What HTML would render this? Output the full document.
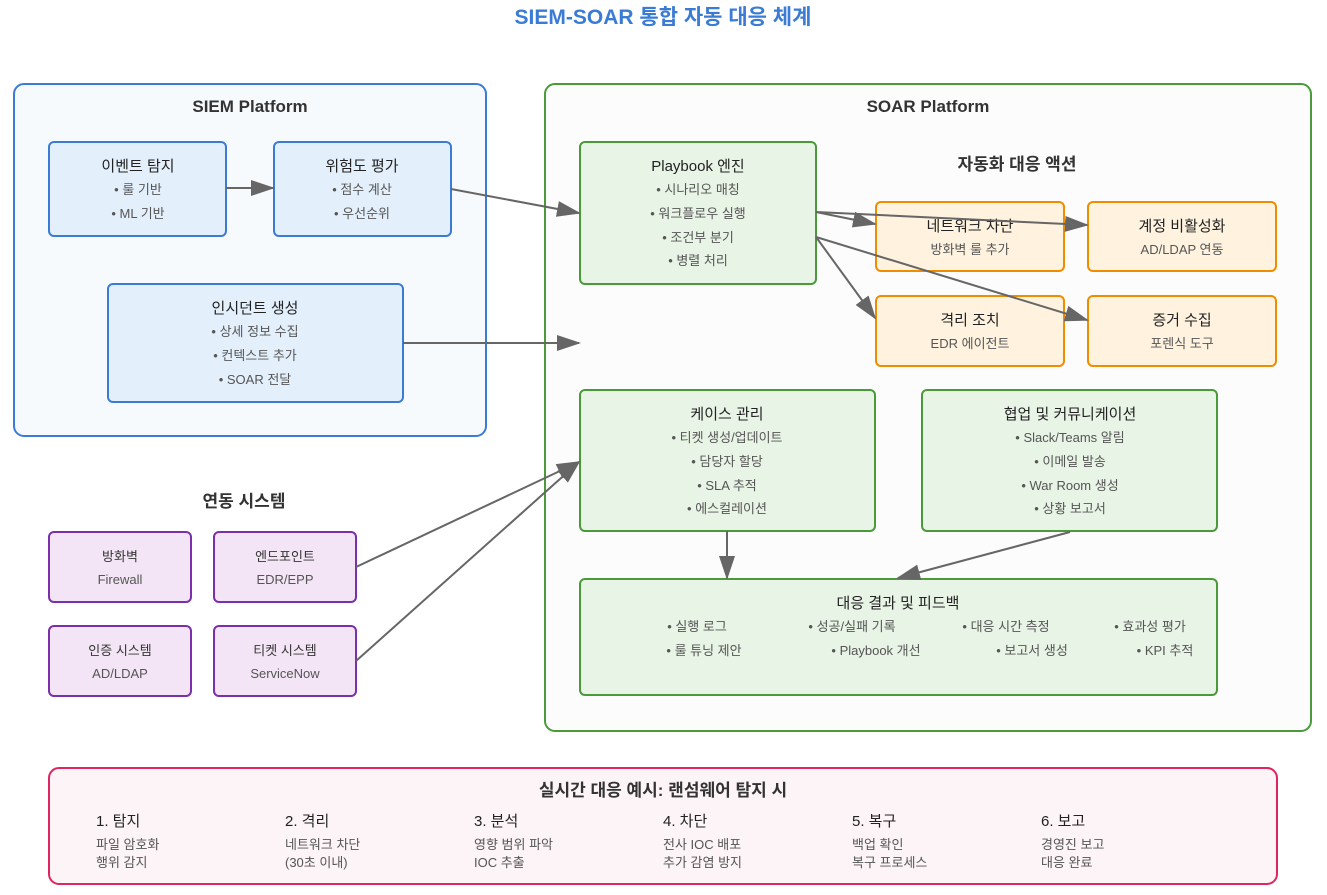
<!DOCTYPE html>
<html><head><meta charset="utf-8"><style>
html,body{margin:0;padding:0;background:#fff}
svg{display:block}
text{font-family:"Liberation Sans","Noto Sans CJK KR",sans-serif}
.t{font-size:15px;fill:#222;text-anchor:middle}
.s{font-size:13px;fill:#555;text-anchor:middle}
.h{font-size:17px;font-weight:bold;fill:#333;text-anchor:middle}
.l{font-size:15px;fill:#222}
.ls{font-size:13px;fill:#555}
</style></head><body>
<svg width="1327" height="895" viewBox="0 0 1327 895">
<defs><marker id="a" markerWidth="10" markerHeight="8" refX="9" refY="4" orient="auto" markerUnits="userSpaceOnUse" viewBox="0 0 10 8"><path d="M0,0 L10,4 L0,8z" fill="#666"/></marker>
<marker id="b" markerWidth="24" markerHeight="16" refX="22" refY="8" orient="auto" markerUnits="userSpaceOnUse"><path d="M0,0 L24,8 L0,16z" fill="#666"/></marker></defs>
<text x="663" y="24" text-anchor="middle" style="font-size:21px;font-weight:bold;fill:#3a7bd5">SIEM-SOAR 통합 자동 대응 체계</text>

<rect x="14" y="84" width="472" height="352" rx="10" fill="#f7fafd" stroke="#3a7bd5" stroke-width="2"/>
<text class="h" x="250" y="112">SIEM Platform</text>
<rect x="545" y="84" width="766" height="647" rx="10" fill="#fbfcfb" stroke="#4a9a3a" stroke-width="2"/>
<text class="h" x="928" y="112">SOAR Platform</text>

<g fill="#e3f0fc" stroke="#3a7bd5" stroke-width="2">
<rect x="49" y="142" width="177" height="94" rx="5"/>
<rect x="274" y="142" width="177" height="94" rx="5"/>
<rect x="108" y="284" width="295" height="118" rx="5"/>
</g>
<text class="t" x="138" y="171">이벤트 탐지</text><text class="s" x="138" y="194">• 룰 기반</text><text class="s" x="138" y="218">• ML 기반</text>
<text class="t" x="362" y="171">위험도 평가</text><text class="s" x="362" y="194">• 점수 계산</text><text class="s" x="362" y="218">• 우선순위</text>
<text class="t" x="255" y="313">인시던트 생성</text><text class="s" x="255" y="336">• 상세 정보 수집</text><text class="s" x="255" y="360">• 컨텍스트 추가</text><text class="s" x="255" y="384">• SOAR 전달</text>

<g fill="#e8f4e5" stroke="#4a9a3a" stroke-width="2">
<rect x="580" y="142" width="236" height="142" rx="5"/>
<rect x="580" y="390" width="295" height="141" rx="5"/>
<rect x="922" y="390" width="295" height="141" rx="5"/>
<rect x="580" y="579" width="637" height="116" rx="5"/>
</g>
<text class="t" x="698" y="171">Playbook 엔진</text><text class="s" x="698" y="194">• 시나리오 매칭</text><text class="s" x="698" y="218">• 워크플로우 실행</text><text class="s" x="698" y="242">• 조건부 분기</text><text class="s" x="698" y="265">• 병렬 처리</text>
<text class="t" x="727" y="419">케이스 관리</text><text class="s" x="727" y="442">• 티켓 생성/업데이트</text><text class="s" x="727" y="466">• 담당자 할당</text><text class="s" x="727" y="490">• SLA 추적</text><text class="s" x="727" y="513">• 에스컬레이션</text>
<text class="t" x="1070" y="419">협업 및 커뮤니케이션</text><text class="s" x="1070" y="442">• Slack/Teams 알림</text><text class="s" x="1070" y="466">• 이메일 발송</text><text class="s" x="1070" y="490">• War Room 생성</text><text class="s" x="1070" y="513">• 상황 보고서</text>
<text class="t" x="898" y="608">대응 결과 및 피드백</text>
<text class="s" x="697" y="631">• 실행 로그</text><text class="s" x="852" y="631">• 성공/실패 기록</text><text class="s" x="1006" y="631">• 대응 시간 측정</text><text class="s" x="1150" y="631">• 효과성 평가</text>
<text class="s" x="704" y="655">• 룰 튜닝 제안</text><text class="s" x="876" y="655">• Playbook 개선</text><text class="s" x="1032" y="655">• 보고서 생성</text><text class="s" x="1165" y="655">• KPI 추적</text>

<text class="h" x="1017" y="170">자동화 대응 액션</text>
<g fill="#fff3e0" stroke="#f08c00" stroke-width="2">
<rect x="876" y="202" width="188" height="69" rx="5"/>
<rect x="1088" y="202" width="188" height="69" rx="5"/>
<rect x="876" y="296" width="188" height="70" rx="5"/>
<rect x="1088" y="296" width="188" height="70" rx="5"/>
</g>
<text class="t" x="970" y="231">네트워크 차단</text><text class="s" x="970" y="254">방화벽 룰 추가</text>
<text class="t" x="1182" y="231">계정 비활성화</text><text class="s" x="1182" y="254">AD/LDAP 연동</text>
<text class="t" x="970" y="325">격리 조치</text><text class="s" x="970" y="348">EDR 에이전트</text>
<text class="t" x="1182" y="325">증거 수집</text><text class="s" x="1182" y="348">포렌식 도구</text>

<text class="h" x="244" y="507">연동 시스템</text>
<g fill="#f3e5f5" stroke="#7b2fa8" stroke-width="2">
<rect x="49" y="532" width="142" height="70" rx="5"/>
<rect x="214" y="532" width="142" height="70" rx="5"/>
<rect x="49" y="626" width="142" height="70" rx="5"/>
<rect x="214" y="626" width="142" height="70" rx="5"/>
</g>
<text class="s" x="120" y="561" style="fill:#333">방화벽</text><text class="s" x="120" y="584">Firewall</text>
<text class="s" x="285" y="561" style="fill:#333">엔드포인트</text><text class="s" x="285" y="584">EDR/EPP</text>
<text class="s" x="120" y="655" style="fill:#333">인증 시스템</text><text class="s" x="120" y="678">AD/LDAP</text>
<text class="s" x="285" y="655" style="fill:#333">티켓 시스템</text><text class="s" x="285" y="678">ServiceNow</text>

<g stroke="#666" stroke-width="2" fill="none" marker-end="url(#b)">
<line x1="226" y1="188" x2="273" y2="188"/>
<line x1="451" y1="189" x2="579" y2="213"/>
<line x1="403" y1="343" x2="579" y2="343"/>
<line x1="816" y1="212" x2="875" y2="224"/>
<line x1="816" y1="212" x2="1087" y2="225"/>
<line x1="816" y1="237" x2="875" y2="318"/>
<line x1="816" y1="237" x2="1087" y2="320"/>
<line x1="356" y1="567" x2="579" y2="462"/>
<line x1="356" y1="661" x2="579" y2="462"/>
<line x1="727" y1="531" x2="727" y2="578"/>
<line x1="1070" y1="532" x2="898" y2="578"/>
</g>

<rect x="49" y="768" width="1228" height="116" rx="10" fill="#fcf4f7" stroke="#e0245e" stroke-width="2"/>
<text class="h" x="663" y="796">실시간 대응 예시: 랜섬웨어 탐지 시</text>
<text class="l" x="96" y="826">1. 탐지</text><text class="ls" x="96" y="849">파일 암호화</text><text class="ls" x="96" y="867">행위 감지</text>
<text class="l" x="285" y="826">2. 격리</text><text class="ls" x="285" y="849">네트워크 차단</text><text class="ls" x="285" y="867">(30초 이내)</text>
<text class="l" x="474" y="826">3. 분석</text><text class="ls" x="474" y="849">영향 범위 파악</text><text class="ls" x="474" y="867">IOC 추출</text>
<text class="l" x="663" y="826">4. 차단</text><text class="ls" x="663" y="849">전사 IOC 배포</text><text class="ls" x="663" y="867">추가 감염 방지</text>
<text class="l" x="852" y="826">5. 복구</text><text class="ls" x="852" y="849">백업 확인</text><text class="ls" x="852" y="867">복구 프로세스</text>
<text class="l" x="1041" y="826">6. 보고</text><text class="ls" x="1041" y="849">경영진 보고</text><text class="ls" x="1041" y="867">대응 완료</text>
</svg>
</body></html>
